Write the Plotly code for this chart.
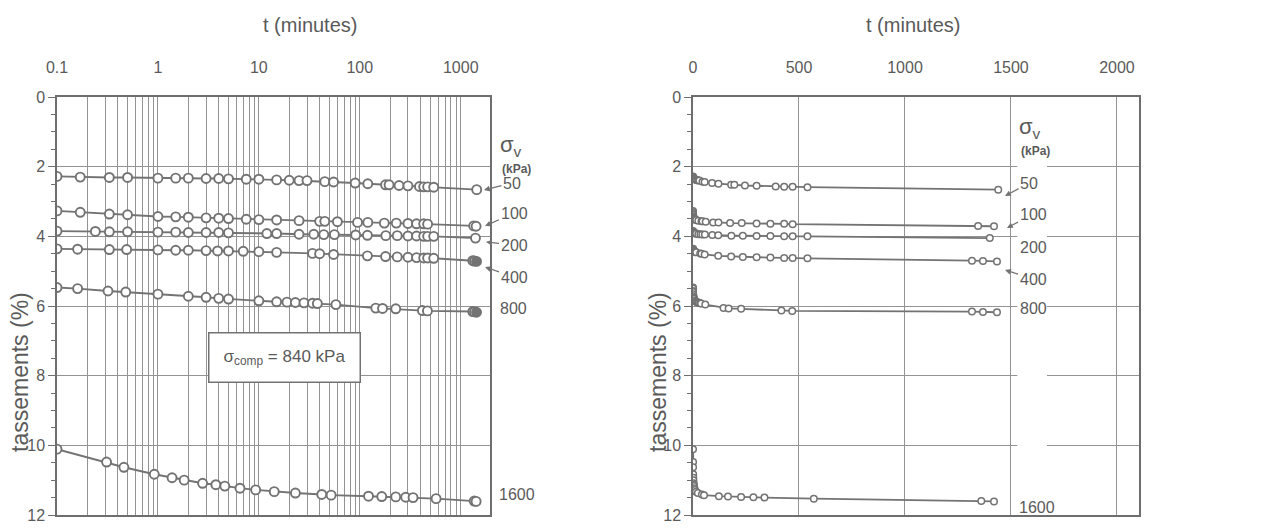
import math
import plotly.graph_objects as go

# ---------------- data ----------------
sigma_labels = ["50", "100", "200", "400", "800", "1600"]

t50 = [0.1, 0.17, 0.33, 0.5, 1, 1.5, 2, 3, 4, 5, 7.5, 10, 15, 20, 25, 30, 45, 55, 90, 120,
       180, 195, 245, 300, 390, 430, 470, 540, 1440]
s50 = [2.28, 2.30, 2.31, 2.31, 2.33, 2.33, 2.33, 2.34, 2.34, 2.35, 2.36, 2.36, 2.38, 2.39, 2.40,
       2.40, 2.43, 2.44, 2.47, 2.49, 2.52, 2.52, 2.54, 2.55, 2.57, 2.58, 2.58, 2.59, 2.66]

t100 = [0.1, 0.17, 0.33, 0.5, 1, 1.5, 2, 3, 4, 5, 7.5, 10, 15, 25, 40, 45, 60, 95, 120, 175,
        230, 300, 365, 430, 470, 1345, 1420]
s100 = [3.27, 3.31, 3.36, 3.38, 3.43, 3.44, 3.45, 3.47, 3.48, 3.49, 3.51, 3.52, 3.53, 3.55, 3.57,
        3.57, 3.58, 3.60, 3.60, 3.62, 3.62, 3.63, 3.64, 3.64, 3.65, 3.70, 3.71]

t200 = [0.1, 0.24, 0.33, 0.5, 1, 1.5, 2, 3, 4, 5, 12, 15, 25, 35, 44, 56, 91, 119, 181, 235,
        300, 365, 430, 470, 540, 1400]
s200 = [3.85, 3.86, 3.87, 3.87, 3.88, 3.88, 3.89, 3.89, 3.89, 3.90, 3.92, 3.92, 3.94, 3.94, 3.95,
        3.95, 3.96, 3.97, 3.98, 3.98, 3.99, 3.99, 4.00, 4.00, 4.00, 4.05]

t400 = [0.1, 0.16, 0.33, 0.49, 1, 1.5, 2, 3, 3.9, 5, 7, 10, 15, 34, 40, 55, 119, 180, 235, 300,
        365, 430, 470, 540, 1316, 1368, 1434]
s400 = [4.36, 4.37, 4.38, 4.38, 4.39, 4.40, 4.40, 4.41, 4.42, 4.42, 4.43, 4.44, 4.46, 4.49, 4.50,
        4.52, 4.56, 4.58, 4.59, 4.60, 4.61, 4.62, 4.62, 4.63, 4.70, 4.71, 4.72]

t800 = [0.1, 0.16, 0.32, 0.48, 1, 2, 3, 4, 5, 10, 15, 19, 23, 28, 34, 38, 58, 144, 168, 227,
        417, 468, 1316, 1368, 1434]
s800 = [5.47, 5.50, 5.57, 5.60, 5.66, 5.72, 5.75, 5.78, 5.80, 5.85, 5.88, 5.89, 5.90, 5.91, 5.92,
        5.93, 5.96, 6.06, 6.07, 6.08, 6.13, 6.14, 6.16, 6.17, 6.18]

t1600 = [0.1, 0.31, 0.46, 0.92, 1.38, 1.82, 2.77, 3.75, 4.6, 6.5, 9.3, 14.2, 23, 42, 52, 122,
         165, 227, 285, 337, 570, 1360, 1420]
s1600 = [10.11, 10.48, 10.63, 10.83, 10.93, 11.00, 11.09, 11.13, 11.17, 11.23, 11.28, 11.33,
         11.37, 11.41, 11.43, 11.46, 11.47, 11.48, 11.49, 11.50, 11.53, 11.60, 11.61]

log_ticks = [0.1, 1, 10, 100, 1000]
log_ticktext = ["0.1", "1", "10", "100", "1000"]
lin_ticks = [0, 500, 1000, 1500, 2000]
y_ticks = [0, 2, 4, 6, 8, 10, 12]
sigma_comp_text = "σ<sub>comp</sub> = 840 kPa"

series_t = [t50, t100, t200, t400, t800, t1600]
series_s = [s50, s100, s200, s400, s800, s1600]

# ---------------- style / geometry ----------------
OFF = 8                      # page body margin of the html page
W, H = 1264 - OFF, 529 - OFF
FONT = "Liberation Sans, Arial, sans-serif"
TXT = "#5a5a5a"
LINE = "#737373"
GRID = "#939393"
AX = "#6e6e6e"
FILLED_END_LEFT = {3, 4}     # series whose last marker is drawn filled in the log panel

TOP_PX, BOT_PX = 97, 515     # plot area rows in the page
M_T, M_B = TOP_PX - OFF, H - (BOT_PX - OFF)
plot_h = BOT_PX - TOP_PX


def px_x(p):
    return (p - OFF) / W


def px_y(p):
    # page pixel row -> settlement value on the (reversed, 0..12) y axes
    return (p - TOP_PX) / plot_h * 12


fig = go.Figure()

for i, (t, s) in enumerate(zip(series_t, series_s)):
    fill_left = ["white"] * len(t)
    if i in FILLED_END_LEFT:
        fill_left[-1] = LINE
    fig.add_trace(go.Scatter(
        x=t, y=s, xaxis="x", yaxis="y", mode="lines+markers",
        line=dict(color=LINE, width=1.9),
        marker=dict(symbol="circle", size=9, color=fill_left,
                    line=dict(color=LINE, width=1.9)),
        showlegend=False, hoverinfo="skip"))
    fig.add_trace(go.Scatter(
        x=t, y=s, xaxis="x2", yaxis="y2", mode="lines+markers",
        line=dict(color=LINE, width=1.8),
        marker=dict(symbol="circle", size=6.5, color="white",
                    line=dict(color=LINE, width=1.5)),
        showlegend=False, hoverinfo="skip"))

minor_log = [k * 10 ** e for e in range(-1, 4) for k in range(2, 10) if k * 10 ** e < 1950]

common_y = dict(
    range=[12, 0], tickvals=y_ticks, ticks="outside", ticklen=7, tickcolor=AX, tickwidth=1,
    showgrid=True, gridcolor=GRID, gridwidth=1, zeroline=False, automargin=False,
    showline=True, linecolor=AX, linewidth=1.5, mirror=True,
    tickfont=dict(family=FONT, size=16, color=TXT),
    minor=dict(dtick=0.5, ticks="outside", ticklen=4, tickcolor=AX, showgrid=False),
)

fig.update_layout(
    width=W, height=H,
    margin=dict(l=0, r=0, t=M_T, b=M_B, autoexpand=False),
    paper_bgcolor="white", plot_bgcolor="white",
    font=dict(family=FONT, color=TXT),
    xaxis=dict(
        type="log", range=[-1, math.log10(1950)], domain=[px_x(57), px_x(490)],
        side="top", anchor="y", tickvals=log_ticks, ticktext=log_ticktext, ticks="",
        ticklabelstandoff=16, automargin=False,
        showgrid=True, gridcolor=GRID, gridwidth=1,
        minor=dict(tickvals=minor_log, showgrid=True, gridcolor=GRID, gridwidth=1, ticks=""),
        showline=True, linecolor=AX, linewidth=2, mirror=True, zeroline=False,
        tickfont=dict(family=FONT, size=16, color=TXT),
    ),
    yaxis=dict(anchor="x", domain=[0, 1], **common_y),
    xaxis2=dict(
        type="linear", range=[0, 2104], domain=[px_x(693), px_x(1139)],
        side="top", anchor="y2", tickvals=lin_ticks, ticks="",
        ticklabelstandoff=16, automargin=False,
        showgrid=True, gridcolor=GRID, gridwidth=1,
        showline=True, linecolor=AX, linewidth=2, mirror=True, zeroline=False,
        tickfont=dict(family=FONT, size=16, color=TXT),
    ),
    yaxis2=dict(anchor="x2", domain=[0, 1], **common_y),
)

# white strip behind the sigma labels on the right panel (interrupts the grid)
fig.add_shape(type="rect", xref="x2", yref="y2", x0=1530, x1=1670, y0=1.5, y1=11.98,
              fillcolor="white", line=dict(width=0), layer="between")

ann = []
# axis titles
for xc in (310, 913):
    ann.append(dict(text="t (minutes)", xref="paper", yref="paper", x=px_x(xc), y=1,
                    yshift=TOP_PX - 25, xanchor="center", yanchor="middle", showarrow=False,
                    font=dict(family=FONT, size=20, color=TXT)))
for xc in (20, 658):
    ann.append(dict(text="tassements (%)", xref="paper", yref="paper", x=px_x(xc),
                    y=1 - (372 - TOP_PX) / plot_h, textangle=-90, xanchor="center",
                    yanchor="middle", showarrow=False,
                    font=dict(family=FONT, size=23, color=TXT)))

# sigma_comp box (left panel)
ann.append(dict(text=sigma_comp_text, xref="x", yref="y", x=math.log10(18), y=px_y(357),
                showarrow=False, bgcolor="white", bordercolor=LINE, borderwidth=1.5,
                borderpad=4, width=142, height=40,
                font=dict(family=FONT, size=17, color=TXT)))

# sigma_v labels; entries: (label, label-centre-x, label-centre-y, arrow-head or None)
left_labels = [
    ("50", 512, 183, (484, 190)), ("100", 514, 213, (485, 226)),
    ("200", 514, 245, (486, 242)), ("400", 514, 277, (485, 267)),
    ("800", 513, 308, None), ("1600", 517, 494, None),
]
right_labels = [
    ("50", 1029, 183, (1005, 196)), ("100", 1033, 214, (1007, 228)),
    ("200", 1033, 247, None), ("400", 1033, 279, (1005, 270)),
    ("800", 1033, 308, None), ("1600", 1037, 507, None),
]
for yref, labels, sx, sy in (("y", left_labels, 498, 146), ("y2", right_labels, 1017, 128)):
    ann.append(dict(text="σ<sub>v</sub>", xref="paper", yref=yref, x=px_x(sx),
                    y=px_y(sy), xanchor="left", yanchor="middle",
                    showarrow=False, font=dict(family=FONT, size=22, color=TXT)))
    ann.append(dict(text="<b>(kPa)</b>", xref="paper", yref=yref, x=px_x(sx + 2),
                    y=px_y(sy + 23), xanchor="left", yanchor="middle",
                    showarrow=False, font=dict(family=FONT, size=12, color=TXT)))
    for lab, cx, cy, head in labels:
        if head is None:
            ann.append(dict(text=lab, xref="paper", yref=yref, x=px_x(cx), y=px_y(cy),
                            xanchor="center", yanchor="middle", showarrow=False,
                            font=dict(family=FONT, size=16, color=TXT)))
        else:
            hx, hy = head
            ann.append(dict(text=lab, xref="paper", yref=yref, x=px_x(hx), y=px_y(hy),
                            ax=cx - hx, ay=cy - hy, showarrow=True, arrowhead=2,
                            arrowsize=0.9, arrowwidth=1.3, arrowcolor=LINE,
                            font=dict(family=FONT, size=16, color=TXT)))

fig.update_layout(annotations=ann)

fig.write_html("out.html")
